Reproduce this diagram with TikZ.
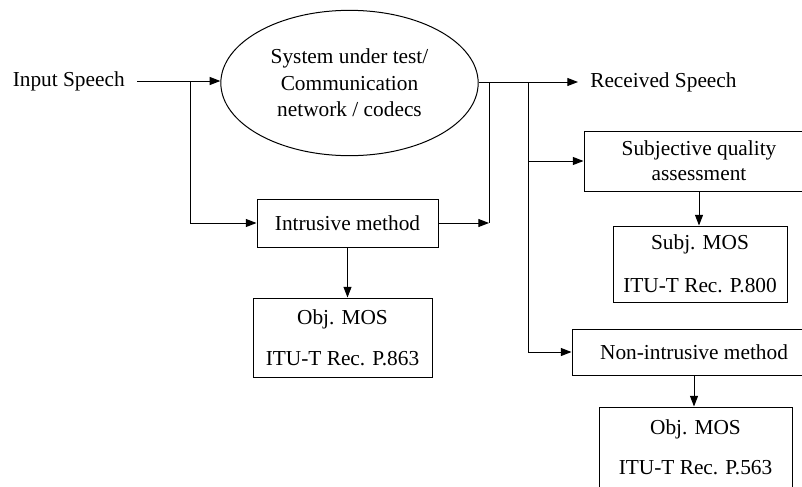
\documentclass[tikz,border=0pt]{standalone}
\usepackage{fontspec}
\setmainfont{Liberation Serif}
\usepackage{tikz}
\usetikzlibrary{shapes.geometric,arrows.meta,positioning}

\tikzset{
  blk/.style={draw,line width=0.75pt,inner sep=0pt,align=center},
  arr/.style={line width=0.75pt,-{Triangle[length=8pt,width=6pt]}},
  ln/.style={line width=0.75pt}
}

\begin{document}
\begin{tikzpicture}[x=0.75pt,y=0.75pt,yscale=-1,font=\fontsize{16}{20}\selectfont]
\useasboundingbox (0,0) rectangle (802,486);
\clip (0,0) rectangle (802,486);

% Text Node
\node (input) [anchor=east,inner sep=0pt] at (125,81) {Input Speech};
% Shape: Ellipse
\node (sut) [blk,ellipse,minimum width=193pt,minimum height=109pt] at (349.5,83) {System under test/\\ Communication\\ network / codecs};
% Text Node
\node (recv) [anchor=west,inner sep=0pt] at (590,82) {Received Speech};

% Shape: Rectangle
\node (intr) [blk,minimum width=135.75pt,minimum height=36pt] at (347.5,223) {Intrusive method};
\node (objA) [blk,minimum width=134.25pt,minimum height=59.25pt] at (342.5,337.5) {Obj. MOS\\[11pt] ITU-T Rec. P.863};

% Shape: Rectangle
\node (subj) [blk,minimum width=172.5pt,minimum height=45pt,font=\fontsize{16}{19}\selectfont] at (699,161) {Subjective quality\\ assessment};
\node (mosS) [blk,minimum width=130.5pt,minimum height=57pt] at (700,264) {Subj. MOS\\[12pt] ITU-T Rec. P.800};

% Shape: Rectangle
\node (non) [blk,minimum width=183pt,minimum height=34.5pt] at (694,352) {Non-intrusive method};
\node (objB) [blk,minimum width=144.75pt,minimum height=60.75pt] at (695.5,447.5) {Obj. MOS\\[10pt] ITU-T Rec. P.563};

% branch points
\coordinate (b1) at (190,81);
\coordinate (b2) at (489,82);
\coordinate (b3) at (528,82);

% Straight Lines
\draw [arr,shorten <=9pt] (input.east) -- (sut.west |- input.east);
\draw [arr] (b1) |- (intr.west);
\draw [arr] (intr.east) -- (b2 |- intr.east);
\draw [ln] (b2) -- (b2 |- intr.east);
\draw [arr,shorten >=9pt] (sut.east |- recv.west) -- (recv.west);
\draw [arr] (b3) |- (non.west);
\draw [arr] (b3 |- subj.west) -- (subj.west);
\draw [arr] (intr.south) -- (intr.south |- objA.north);
\draw [arr] (subj.south) -- (subj.south |- mosS.north);
\draw [arr] (non.south) -- (non.south |- objB.north);

\end{tikzpicture}
\end{document}
